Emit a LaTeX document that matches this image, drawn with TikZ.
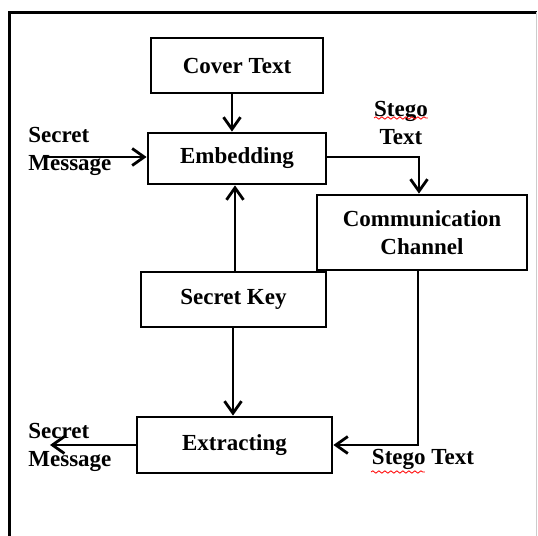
\documentclass[tikz,border=0pt]{standalone}
\usepackage{fontspec}
\setmainfont{Liberation Serif}
\usepackage{tikz}
\usetikzlibrary{positioning, calc, arrows.meta, decorations.pathmorphing}

\begin{document}
\begin{tikzpicture}[x=0.5pt, y=-0.5pt, thick, line width=1.4pt, font=\fontsize{11.5}{14}\selectfont\bfseries, >={Straight Barb[length=6pt,width=8.5pt]}]
        % Define block styles
        \tikzstyle{block} = [rectangle, draw, line width=1.4pt, text centered, inner sep=0pt]
        \tikzstyle{label} = [align=left, inner sep=0pt]
        \tikzstyle{spell} = [red, line width=0.4pt, decorate, decoration={snake, amplitude=0.6pt, segment length=3pt}]

        % Page and frame
        \useasboundingbox (0,0) rectangle (538,536);
        \fill[white] (0,0) rectangle (538,536);
        \draw[line width=1.5pt] (10,536) -- (10,12) -- (537,12);
        \draw[gray!40, line width=0.5pt] (537,12) -- (537,536);

        % Place main nodes
        \node [block, minimum width=86pt, minimum height=27.5pt] (cover) at (237,65.5) {Cover Text};
        \node [block, minimum width=89pt, minimum height=25.5pt] (embed) at (237,158.5) {Embedding};
        \node [block, minimum width=105pt, minimum height=37.5pt, align=center] (channel) at (422,232.5) {Communication\\Channel};
        \node [block, minimum width=92.5pt, minimum height=27.5pt] (key) at (233.5,299.5) {Secret Key};
        \node [block, minimum width=97.5pt, minimum height=28pt] (extract) at (234.5,445) {Extracting};

        % Free ends of the message arrows
        \coordinate (msgin) at (45,157);
        \coordinate (msgout) at (50,445);

        % Draw connections as arrows
        \draw [->] (cover.south -| 232,0) -- (embed.north -| 232,0);
        \draw [->] (key.north -| 235,0) -- (embed.south -| 235,0);
        \draw [->] (key.south -| 233,0) -- (extract.north -| 233,0);
        \draw [->] (msgin) -- (embed.west |- msgin);
        \draw [->] (embed.east |- msgin) -| (channel.north -| 419,0);
        \draw [->] (channel.south -| 418,0) |- (extract.east);
        \draw [->] (extract.west) -- (msgout);

        % Add text on the arrows
        \node[label, anchor=west] (msgtop) at (27,151) {Secret\\Message};
        \node[label, align=center] (stegotop) at (401,122.5) {Stego\\Text};
        \node[label, anchor=west] (msgbot) at (27,447) {Secret\\Message};
        \node[label] (stegobot) at (423,459) {Stego Text};

        % Spelling marks under Stego
        \draw[spell] (374,118) -- (428,118);
        \draw[spell] (371,472) -- (425,472);
\end{tikzpicture}
\end{document}
